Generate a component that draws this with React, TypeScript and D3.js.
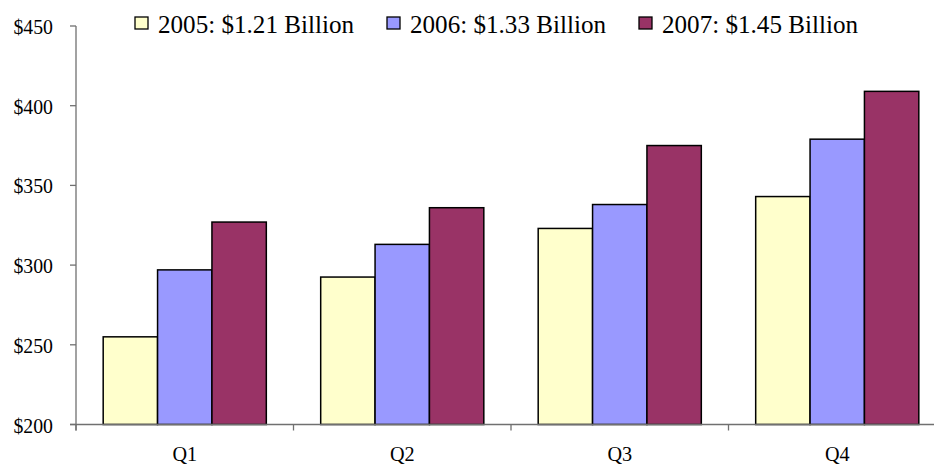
import React from "react";
import * as d3 from "d3";

const quarters = ["Q1", "Q2", "Q3", "Q4"];
const seriesNames = ["2005: $1.21 Billion", "2006: $1.33 Billion", "2007: $1.45 Billion"];
const values2005 = [255, 292.5, 323, 343];
const values2006 = [297, 313, 338, 379];
const values2007 = [327, 336, 375, 409];
const yTicks = [200, 250, 300, 350, 400, 450];
const colors = ["#FFFFCC", "#9999FF", "#993366"];

const W = 934;
const H = 466;

const textStyle: React.CSSProperties = {
  fontFamily: '"Liberation Serif", "Times New Roman", Times, serif',
};

export default function App() {
  const series = [values2005, values2006, values2007];
  const x = d3.scaleBand<string>().domain(quarters).range([76, 946]).paddingInner(0).paddingOuter(0);
  const step = x.bandwidth();
  const inner = d3
    .scaleBand<number>()
    .domain([0, 1, 2])
    .range([step / 8, step - step / 8])
    .padding(0);
  const y = d3.scaleLinear().domain([200, 450]).range([424.5, 26]);
  const axisColor = "#707070";

  return (
    <svg width={W} height={H} style={{ position: "absolute", left: 0, top: 0, background: "#fff" }}>
      {/* bars */}
      {quarters.map((q, qi) => (
        <g key={q}>
          {series.map((s, si) => {
            const x0 = (x(q) as number) + (inner(si) as number);
            return (
              <rect
                key={si}
                x={x0}
                y={y(s[qi])}
                width={inner.bandwidth()}
                height={y(200) - y(s[qi])}
                fill={colors[si]}
                stroke="#000"
                strokeWidth={1.5}
              />
            );
          })}
        </g>
      ))}

      {/* y axis */}
      <line x1={76} x2={76} y1={y(450)} y2={y(200) + 6} stroke={axisColor} strokeWidth={1.3} />
      {yTicks.map((t) => (
        <g key={t}>
          <line x1={70} x2={76} y1={y(t)} y2={y(t)} stroke={axisColor} strokeWidth={1.3} />
          <text
            transform={`translate(53,${y(t) + 8}) scale(0.9,1)`}
            textAnchor="end"
            fontSize={22}
            fill="#000"
            style={textStyle}
          >
            {"$" + t}
          </text>
        </g>
      ))}

      {/* x axis */}
      <line x1={70} x2={W} y1={y(200)} y2={y(200)} stroke={axisColor} strokeWidth={1.3} />
      {quarters.map((q) => (
        <line
          key={"t" + q}
          x1={x(q) as number}
          x2={x(q) as number}
          y1={y(200)}
          y2={y(200) + 6}
          stroke={axisColor}
          strokeWidth={1.3}
        />
      ))}
      {quarters.map((q) => (
        <text
          key={"l" + q}
          transform={`translate(${(x(q) as number) + step / 2},461) scale(0.92,1)`}
          textAnchor="middle"
          fontSize={22}
          fill="#000"
          style={textStyle}
        >
          {q}
        </text>
      ))}

      {/* legend */}
      {seriesNames.map((name, i) => {
        const lx = 135 + i * 252;
        return (
          <g key={name}>
            <rect x={lx} y={17} width={13} height={12} fill={colors[i]} stroke="#000" strokeWidth={1.3} />
            <text
              x={lx + 23}
              y={33}
              fontSize={25}
              textLength={196}
              lengthAdjust="spacingAndGlyphs"
              fill="#000"
              style={textStyle}
            >
              {name}
            </text>
          </g>
        );
      })}
    </svg>
  );
}
